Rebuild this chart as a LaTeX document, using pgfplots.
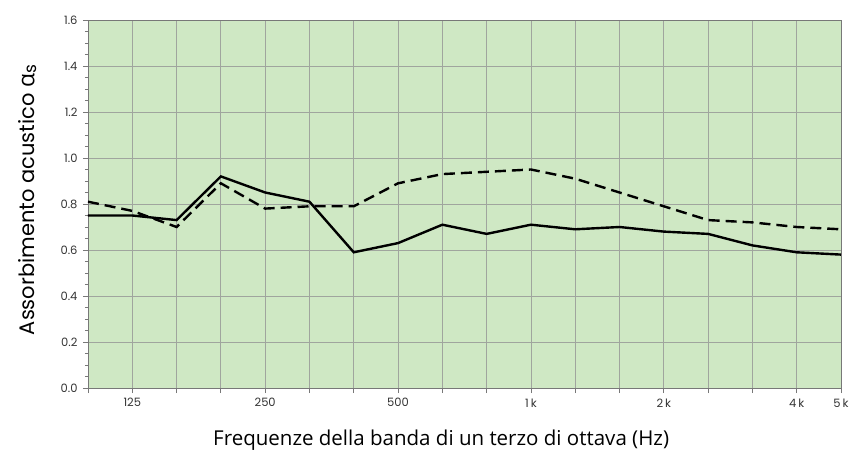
\documentclass[border=0pt]{standalone}
\usepackage{fontspec}
\setmainfont{Poppins}
\newfontfamily\osans{Open Sans}
\usepackage{pgfplots}
\pgfplotsset{compat=1.18}
\definecolor{bg}{RGB}{207,232,196}
\definecolor{gridc}{RGB}{160,165,158}
\definecolor{axc}{RGB}{120,120,120}
\begin{document}
\begin{tikzpicture}[x=1bp,y=1bp]
\begin{axis}[
  name=ax,
  scale only axis,
  width=753bp, height=368bp,
  xmin=0, xmax=17, ymin=0, ymax=1.6,
  axis background/.style={fill=bg},
  xtick={0,...,17},
  xticklabels={,125,,,250,,,500,,,1\,k,,,2\,k,,,4\,k,5\,k},
  ytick={0,0.2,...,1.6},
  minor y tick num=3,
  yticklabel style={xshift=-2bp,/pgf/number format/.cd,fixed,fixed zerofill,precision=1},
  /pgf/number format/assume math mode=true,
  tick label style={font=\fontsize{11.5bp}{13bp}\selectfont, color=black!80},
  grid=major,
  major grid style={gridc, line width=0.8bp},
  axis line style={axc, line width=0.8bp},
  tick style={axc, line width=0.8bp},
  tickpos=left,
  tick align=outside,
  major tick length=5bp,
  minor tick length=3bp,
  xticklabel style={yshift=-2bp},
  xlabel={\osans Frequenze della banda di un terzo di ottava (Hz)},
  xlabel style={font=\fontsize{20.5bp}{23bp}\selectfont, at={(rel axis cs:0.469,0)}, anchor=center, yshift=-52bp},
  ylabel={Assorbimento acustico {\osans\fontsize{23bp}{23bp}\selectfont α}\raisebox{-0.12em}{\fontsize{17bp}{17bp}\selectfont s}},
  ylabel style={font=\fontsize{21bp}{24bp}\selectfont, at={(rel axis cs:-0.08,0.511)}, anchor=center},
]
\addplot[black, line width=2.4bp] coordinates {
(0,0.75) (1,0.75) (2,0.73) (3,0.92) (4,0.85) (5,0.81) (6,0.59) (7,0.63) (8,0.71)
(9,0.67) (10,0.71) (11,0.69) (12,0.70) (13,0.68) (14,0.67) (15,0.62) (16,0.59) (17,0.58)};
\addplot[black, line width=2.4bp, dash pattern=on 11bp off 6bp] coordinates {
(0,0.81) (1,0.77) (2,0.70) (3,0.89) (4,0.78) (5,0.79) (6,0.79) (7,0.89) (8,0.93)
(9,0.94) (10,0.95) (11,0.91) (12,0.85) (13,0.79) (14,0.73) (15,0.72) (16,0.70) (17,0.69)};
\end{axis}
\path ([xshift=-88bp,yshift=-67bp]ax.south west) rectangle ([xshift=12bp,yshift=20bp]ax.north east);
\end{tikzpicture}
\end{document}
